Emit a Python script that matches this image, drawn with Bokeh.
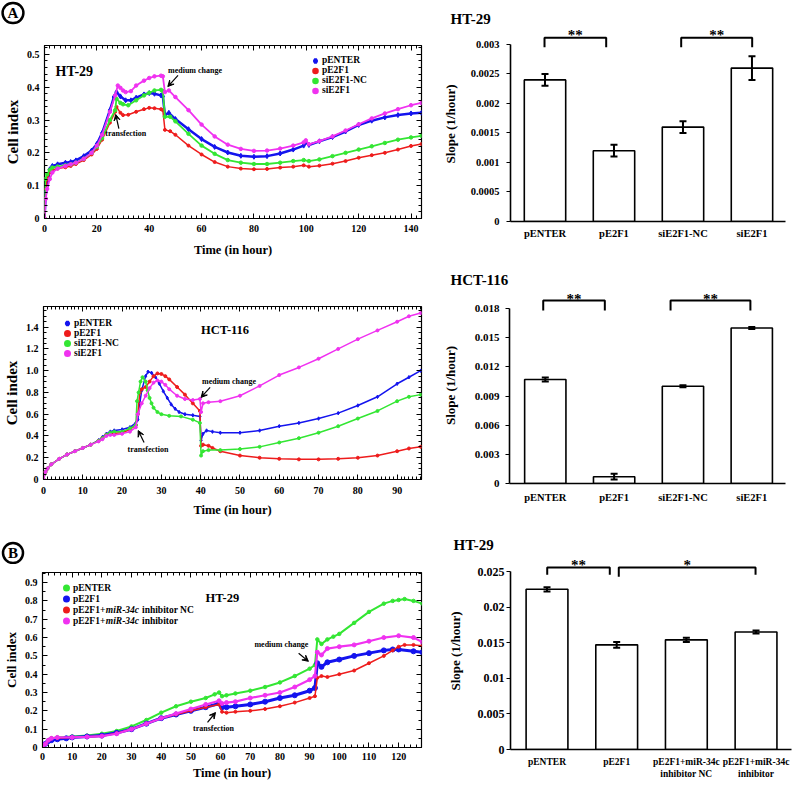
from bokeh.plotting import figure
from bokeh.layouts import column, row
from bokeh.models import (Range1d, LinearAxis, FixedTicker, Legend, LegendItem, Label,
                          Arrow, VeeHead, Whisker, TeeHead, ColumnDataSource,
                          CustomLabelingPolicy)
from bokeh.embed import file_html
from bokeh.resources import INLINE

FONT = "Liberation Serif"
BLUE = "#1414ee"
RED = "#ee1c1c"
GREEN = "#33e633"
MAGENTA = "#f032f0"

# ======================= DATA =======================
# ---- (A) HT-29 real-time cell index ----
A1_PENTER_T = [0, 0.5, 1, 2, 3, 5, 8, 10, 12, 15, 18, 20, 22, 25, 26.5, 27.5, 29, 31, 33, 35, 38, 40, 42, 44.5, 45.2, 46, 47.5, 50, 55, 60, 65, 70, 75, 80, 85, 90, 95, 99, 99.8, 101, 105, 110, 115, 120, 125, 130, 135, 140, 144]
A1_PENTER_V = [0, 0.08, 0.1, 0.15, 0.16, 0.165, 0.17, 0.172, 0.177, 0.19, 0.207, 0.227, 0.26, 0.33, 0.37, 0.385, 0.372, 0.36, 0.36, 0.368, 0.378, 0.382, 0.38, 0.375, 0.372, 0.315, 0.322, 0.303, 0.272, 0.242, 0.218, 0.201, 0.191, 0.188, 0.19, 0.198, 0.21, 0.222, 0.232, 0.224, 0.235, 0.248, 0.265, 0.285, 0.298, 0.308, 0.315, 0.32, 0.322]
A1_PE2F1_T = [0, 0.5, 1, 2, 3, 5, 8, 10, 12, 15, 18, 20, 22, 25, 27, 27.5, 29, 30, 32, 35, 38, 40, 42, 44.5, 45.2, 46, 48, 50, 55, 60, 65, 70, 75, 80, 85, 90, 95, 99, 101, 105, 110, 115, 120, 125, 130, 135, 140, 144]
A1_PE2F1_V = [0, 0.09, 0.12, 0.14, 0.148, 0.152, 0.156, 0.16, 0.166, 0.178, 0.195, 0.212, 0.24, 0.292, 0.325, 0.34, 0.322, 0.315, 0.316, 0.325, 0.333, 0.337, 0.336, 0.333, 0.33, 0.27, 0.266, 0.255, 0.222, 0.195, 0.172, 0.158, 0.152, 0.15, 0.151, 0.155, 0.158, 0.162, 0.158, 0.161, 0.167, 0.175, 0.185, 0.193, 0.2, 0.21, 0.221, 0.227]
A1_SINC_T = [0, 0.3, 1, 2, 3, 5, 8, 10, 12, 15, 18, 20, 22, 25, 27, 27.5, 29, 30, 32, 35, 38, 40, 42, 44.5, 45.2, 46, 48, 50, 55, 60, 65, 70, 75, 80, 85, 90, 95, 99, 101, 105, 110, 115, 120, 125, 130, 135, 140, 144]
A1_SINC_V = [0, 0.12, 0.135, 0.148, 0.155, 0.158, 0.162, 0.165, 0.17, 0.182, 0.2, 0.218, 0.245, 0.3, 0.33, 0.365, 0.352, 0.348, 0.345, 0.36, 0.375, 0.383, 0.39, 0.392, 0.388, 0.31, 0.31, 0.296, 0.258, 0.222, 0.197, 0.178, 0.17, 0.166, 0.166, 0.17, 0.175, 0.178, 0.175, 0.18, 0.19, 0.2, 0.21, 0.22, 0.23, 0.24, 0.247, 0.252]
A1_SIE2F1_T = [0, 0.5, 1, 2, 3, 5, 8, 10, 12, 15, 18, 20, 22, 25, 27, 28, 29, 30, 31, 33, 35, 38, 40, 42, 44.5, 45.2, 46, 47.5, 50, 55, 60, 65, 70, 75, 80, 85, 90, 95, 99, 99.8, 101, 105, 110, 115, 120, 125, 130, 135, 140, 144]
A1_SIE2F1_V = [0, 0.06, 0.09, 0.12, 0.14, 0.152, 0.16, 0.165, 0.17, 0.182, 0.2, 0.222, 0.255, 0.325, 0.375, 0.405, 0.398, 0.39, 0.385, 0.388, 0.405, 0.42, 0.428, 0.433, 0.435, 0.433, 0.385, 0.39, 0.37, 0.33, 0.286, 0.25, 0.225, 0.212, 0.206, 0.207, 0.213, 0.222, 0.232, 0.238, 0.226, 0.236, 0.25, 0.268, 0.287, 0.305, 0.32, 0.333, 0.345, 0.352]

# ---- (A) HCT-116 real-time cell index ----
A2_PENTER_T = [0, 0.5, 1, 2, 4, 6, 8, 10, 12, 14, 15, 16, 17, 18, 20, 22, 23.5, 24, 24.5, 25, 26, 26.6, 27.5, 28.5, 29.5, 30.5, 31.5, 32.5, 33.5, 34.5, 36, 38, 39.8, 40.1, 40.6, 41.5, 43, 45, 50, 55, 60, 65, 70, 75, 80, 85, 90, 93, 96]
A2_PENTER_V = [0, 0.07, 0.1, 0.14, 0.19, 0.23, 0.26, 0.29, 0.32, 0.36, 0.39, 0.42, 0.44, 0.45, 0.46, 0.48, 0.52, 0.55, 0.7, 0.82, 0.95, 0.99, 0.98, 0.94, 0.88, 0.81, 0.75, 0.69, 0.65, 0.62, 0.6, 0.59, 0.58, 0.36, 0.42, 0.45, 0.44, 0.43, 0.43, 0.45, 0.49, 0.52, 0.56, 0.61, 0.68, 0.76, 0.88, 0.94, 1.0]
A2_PE2F1_T = [0, 0.5, 1, 2, 4, 6, 8, 10, 12, 14, 15, 16, 17, 18, 20, 22, 23.5, 24, 24.5, 25, 26, 27, 28, 29, 30, 31, 32, 34, 36, 38, 39.8, 40.1, 40.6, 42, 43, 45, 50, 55, 60, 65, 70, 75, 80, 85, 90, 93, 96]
A2_PE2F1_V = [0, 0.07, 0.1, 0.14, 0.19, 0.23, 0.26, 0.29, 0.32, 0.355, 0.38, 0.41, 0.42, 0.425, 0.43, 0.46, 0.5, 0.6, 0.8, 0.83, 0.85, 0.9, 0.95, 0.975, 0.97, 0.95, 0.92, 0.85, 0.78, 0.7, 0.63, 0.31, 0.32, 0.31, 0.29, 0.26, 0.22, 0.2, 0.19, 0.185, 0.185, 0.19, 0.2, 0.22, 0.26, 0.285, 0.3]
A2_SINC_T = [0, 0.5, 1, 2, 4, 6, 8, 10, 12, 14, 15, 16, 17, 18, 20, 22, 23.5, 23.8, 24.2, 24.7, 25.2, 26, 26.5, 27, 27.5, 28, 29, 30, 32, 35, 38, 39.8, 40.1, 40.6, 42, 45, 50, 55, 60, 65, 70, 75, 80, 85, 90, 93, 96]
A2_SINC_V = [0, 0.07, 0.1, 0.14, 0.19, 0.23, 0.26, 0.29, 0.32, 0.355, 0.38, 0.41, 0.43, 0.44, 0.44, 0.47, 0.5, 0.72, 0.8, 0.9, 0.94, 0.9, 0.82, 0.75, 0.7, 0.66, 0.62, 0.6, 0.585, 0.58, 0.55, 0.52, 0.22, 0.26, 0.27, 0.27, 0.28, 0.3, 0.34, 0.38, 0.43, 0.49, 0.56, 0.63, 0.72, 0.76, 0.78]
A2_SIE2F1_T = [0, 0.5, 1, 2, 4, 6, 8, 10, 12, 14, 15, 16, 17, 18, 20, 22, 23.5, 24, 25, 26, 27, 28, 29, 30, 31, 32, 34, 36, 38, 39.8, 40.1, 40.6, 42, 45, 50, 55, 60, 65, 70, 75, 80, 85, 90, 93, 96]
A2_SIE2F1_V = [0, 0.07, 0.1, 0.14, 0.19, 0.23, 0.26, 0.29, 0.32, 0.35, 0.37, 0.4, 0.41, 0.41, 0.42, 0.44, 0.48, 0.6, 0.7, 0.77, 0.84, 0.89, 0.91, 0.9, 0.87, 0.83, 0.77, 0.74, 0.73, 0.74, 0.62, 0.7, 0.71, 0.72, 0.77, 0.86, 0.96, 1.03, 1.11, 1.2, 1.29, 1.37, 1.45, 1.5, 1.53]

# ---- (B) HT-29 real-time cell index ----
B_PENTER_T = [0, 1, 2, 3, 5, 10, 15, 20, 25, 30, 35, 40, 45, 50, 55, 58, 59.5, 60.5, 62, 65, 70, 75, 80, 85, 90, 91.8, 92.6, 94, 96, 98, 100, 105, 110, 115, 118, 120, 122, 125, 128]
B_PENTER_V = [0, 0.02, 0.04, 0.05, 0.055, 0.06, 0.065, 0.075, 0.09, 0.115, 0.15, 0.19, 0.225, 0.25, 0.27, 0.29, 0.3, 0.28, 0.285, 0.295, 0.31, 0.33, 0.355, 0.39, 0.43, 0.45, 0.59, 0.565, 0.59, 0.605, 0.62, 0.68, 0.74, 0.785, 0.8, 0.805, 0.81, 0.8, 0.785]
B_PE2F1_T = [0, 1, 2, 3, 5, 8, 10, 15, 20, 25, 30, 35, 40, 45, 50, 55, 59.5, 60.5, 62, 65, 70, 75, 80, 85, 90, 91.8, 92.6, 94, 96, 100, 105, 110, 115, 118, 120, 125, 128]
B_PE2F1_V = [0, 0.02, 0.035, 0.04, 0.045, 0.05, 0.055, 0.06, 0.065, 0.08, 0.1, 0.13, 0.16, 0.18, 0.2, 0.22, 0.24, 0.22, 0.22, 0.225, 0.235, 0.25, 0.27, 0.285, 0.31, 0.325, 0.46, 0.44, 0.465, 0.48, 0.5, 0.515, 0.53, 0.535, 0.535, 0.525, 0.52]
B_INHNC_T = [0, 1, 2, 3, 5, 10, 15, 20, 25, 30, 35, 40, 45, 50, 55, 59.5, 60.5, 62, 65, 70, 75, 80, 85, 90, 91.8, 92.6, 94, 96, 100, 105, 110, 115, 118, 120, 122, 125, 128]
B_INHNC_V = [0, 0.02, 0.04, 0.05, 0.052, 0.055, 0.058, 0.062, 0.078, 0.1, 0.13, 0.16, 0.18, 0.2, 0.22, 0.235, 0.195, 0.19, 0.195, 0.2, 0.21, 0.225, 0.245, 0.27, 0.28, 0.38, 0.39, 0.385, 0.4, 0.42, 0.46, 0.5, 0.53, 0.55, 0.56, 0.56, 0.555]
B_INH_T = [0, 1, 2, 3, 5, 10, 15, 20, 25, 30, 35, 40, 45, 50, 55, 59.5, 60.5, 62, 65, 70, 75, 80, 85, 90, 91.8, 92.6, 94, 96, 100, 105, 110, 115, 120, 125, 128]
B_INH_V = [0, 0.02, 0.04, 0.05, 0.055, 0.055, 0.058, 0.062, 0.075, 0.1, 0.13, 0.16, 0.185, 0.21, 0.235, 0.255, 0.24, 0.245, 0.25, 0.27, 0.285, 0.3, 0.33, 0.37, 0.39, 0.52, 0.505, 0.54, 0.55, 0.56, 0.58, 0.6, 0.61, 0.6, 0.575]

# ---- Slopes (bar charts) ----
A_CATS = ["pENTER", "pE2F1", "siE2F1-NC", "siE2F1"]
B_CATS = ["pENTER", "pE2F1", "pE2F1+miR-34c\ninhibitor NC", "pE2F1+miR-34c\ninhibitor"]
A1_SLOPE = [0.0024, 0.0012, 0.0016, 0.0026]
A1_SLOPE_ERR = [0.0001, 0.0001, 0.0001, 0.0002]
A2_SLOPE = [0.0107, 0.0007, 0.0100, 0.0160]
A2_SLOPE_ERR = [0.0002, 0.0003, 0.0001, 0.0001]
B_SLOPE = [0.0225, 0.0147, 0.0154, 0.0165]
B_SLOPE_ERR = [0.0003, 0.0004, 0.0003, 0.0002]

# ---- Tick labels ----
A1_XTICKS = [0, 20, 40, 60, 80, 100, 120, 140]
A1_XLABELS = ["0", "20", "40", "60", "80", "100", "120", "140"]
A1_YTICKS = [0, 0.1, 0.2, 0.3, 0.4, 0.5]
A1_YLABELS = ["0", "0.1", "0.2", "0.3", "0.4", "0.5"]
A2_XTICKS = [0, 10, 20, 30, 40, 50, 60, 70, 80, 90]
A2_XLABELS = ["0", "10", "20", "30", "40", "50", "60", "70", "80", "90"]
A2_YTICKS = [0, 0.2, 0.4, 0.6, 0.8, 1.0, 1.2, 1.4]
A2_YLABELS = ["0", "0.2", "0.4", "0.6", "0.8", "1.0", "1.2", "1.4"]
B_XTICKS = [0, 10, 20, 30, 40, 50, 60, 70, 80, 90, 100, 110, 120]
B_XLABELS = ["0", "10", "20", "30", "40", "50", "60", "70", "80", "90", "100", "110", "120"]
B_YTICKS = [0, 0.1, 0.2, 0.3, 0.4, 0.5, 0.6, 0.7, 0.8, 0.9]
B_YLABELS = ["0", "0.1", "0.2", "0.3", "0.4", "0.5", "0.6", "0.7", "0.8", "0.9"]
A1_BAR_YTICKS = [0, 0.0005, 0.001, 0.0015, 0.002, 0.0025, 0.003]
A1_BAR_YLABELS = ["0", "0.0005", "0.001", "0.0015", "0.002", "0.0025", "0.003"]
A2_BAR_YTICKS = [0, 0.003, 0.006, 0.009, 0.012, 0.015, 0.018]
A2_BAR_YLABELS = ["0", "0.003", "0.006", "0.009", "0.012", "0.015", "0.018"]
B_BAR_YTICKS = [0, 0.005, 0.01, 0.015, 0.02, 0.025]
B_BAR_YLABELS = ["0", "0.005", "0.01", "0.015", "0.02", "0.025"]

# ======================= HELPERS =======================

def make_line_fig(W, H, borders, xr, yr, xt, xl, xminor, yt, yl, yminor, ylab_size,
                  xtick_standoff, xlab_standoff):
    l, r, t, b = borders
    p = figure(width=W, height=H, x_range=Range1d(*xr), y_range=Range1d(*yr),
               x_axis_type=None, y_axis_type=None, output_backend="svg",
               toolbar_location=None, tools="",
               min_border_left=l, min_border_right=r, min_border_top=t, min_border_bottom=b)
    p.outline_line_color = "black"
    p.outline_line_width = 1.2
    p.background_fill_color = "white"
    p.border_fill_color = "white"
    xtk = FixedTicker(ticks=xt, minor_ticks=xminor)
    ytk = FixedTicker(ticks=yt, minor_ticks=yminor)
    common = dict(axis_line_color=None, major_tick_in=5, major_tick_out=0,
                  minor_tick_in=3, minor_tick_out=0,
                  major_tick_line_color="black", minor_tick_line_color="black",
                  major_label_text_font=FONT, major_label_text_font_style="bold",
                  major_label_text_color="black",
                  axis_label_text_font=FONT, axis_label_text_font_style="bold",
                  axis_label_text_color="black")
    xa = LinearAxis(ticker=xtk, major_label_overrides=dict(zip(xt, xl)),
                    axis_label="Time (in hour)", axis_label_text_font_size="12.5px",
                    major_label_text_font_size="10px",
                    major_label_standoff=xtick_standoff, axis_label_standoff=xlab_standoff,
                    **common)
    ya = LinearAxis(ticker=ytk, major_label_overrides=dict(zip(yt, yl)),
                    axis_label="Cell index", axis_label_text_font_size=ylab_size,
                    major_label_text_font_size="10px",
                    major_label_standoff=5, axis_label_standoff=3, **common)
    # tick-only axes on the top and right edges (labels suppressed)
    xa2 = LinearAxis(ticker=xtk, major_label_standoff=0, major_label_text_font_size="1px",
                     major_label_policy=CustomLabelingPolicy(code="return []"), **common)
    ya2 = LinearAxis(ticker=ytk, major_label_standoff=0, major_label_text_font_size="1px",
                     major_label_policy=CustomLabelingPolicy(code="return []"), **common)
    p.add_layout(xa, "below")
    p.add_layout(ya, "left")
    p.add_layout(xa2, "above")
    p.add_layout(ya2, "right")
    return p


def make_header(W, H, letter, cx, cy_from_bottom):
    """A thin strip carrying the circled panel letter."""
    h = figure(width=W, height=H, x_range=Range1d(0, 1), y_range=Range1d(0, 1),
               x_axis_type=None, y_axis_type=None, output_backend="svg",
               toolbar_location=None, tools="",
               min_border_left=0, min_border_right=0, min_border_top=0, min_border_bottom=0)
    h.outline_line_color = None
    h.background_fill_color = "white"
    h.border_fill_color = "white"
    h.add_layout(Label(x=cx, y=cy_from_bottom, x_units="screen", y_units="screen",
                       text=letter, text_font=FONT, text_font_style="bold",
                       text_font_size="15px", text_align="center", text_baseline="middle",
                       text_color="black", border_line_color="black", border_line_width=2.5,
                       border_radius=11, padding=(5, 2)))
    return h


def add_series(p, series):
    rends = []
    for label, t, v, color, marker, msize, lw in series:
        p.line(t, v, line_color=color, line_width=lw)
        p.scatter(t, v, marker=marker, size=msize, fill_color=color, line_color=color)
        # legend swatch renderer (first point only, drawn tiny at the origin)
        sw = p.scatter(x=t[:1], y=v[:1], marker=marker, size=1, fill_color=color,
                       line_color=color, line_width=3)
        rends.append((label, sw))
    return rends


def add_legend(p, rends, loc, row_h, standoff):
    items = [LegendItem(label=lab_, renderers=[r]) for lab_, r in rends]
    lg = Legend(items=items, location=loc, orientation="vertical",
                glyph_width=10, glyph_height=row_h, label_height=row_h, label_width=10,
                spacing=0, padding=0, margin=0, label_standoff=standoff,
                label_text_font=FONT, label_text_font_style="bold",
                label_text_font_size="9.5px", label_text_color="black",
                background_fill_alpha=0, border_line_alpha=0)
    p.add_layout(lg)
    return lg


def lab(p, x, y, text, size, align="center", units="data", style="bold", baseline="middle"):
    p.add_layout(Label(x=x, y=y, x_units=units, y_units=units, text=text,
                       text_font=FONT, text_font_style=style, text_font_size=size,
                       text_align=align, text_baseline=baseline, text_color="black"))


def arrow(p, x0, y0, x1, y1):
    p.add_layout(Arrow(x_start=x0, y_start=y0, x_end=x1, y_end=y1, line_width=1.2,
                       line_color="black",
                       end=VeeHead(size=6, line_color="black", fill_color="black", line_width=1)))


def set_title(p, text, offset, size, standoff):
    p.title.text = text
    p.title.align = "left"
    p.title.offset = offset
    p.title.standoff = standoff
    p.title.text_font = FONT
    p.title.text_font_style = "bold"
    p.title.text_font_size = size
    p.title.text_color = "black"


def make_bar_fig(W, H, borders, xr, yr, cats, vals, errs, yt, yl, tick_fs, cat_fs,
                 cat_standoff, tick_standoff, lab_standoff):
    l, r, t, b = borders
    p = figure(width=W, height=H, x_range=Range1d(*xr), y_range=Range1d(*yr),
               x_axis_type=None, y_axis_type=None, output_backend="svg",
               toolbar_location=None, tools="",
               min_border_left=l, min_border_right=r, min_border_top=t, min_border_bottom=b)
    p.outline_line_color = None
    p.background_fill_color = "white"
    p.border_fill_color = "white"
    xs = list(range(1, len(cats) + 1))
    src = ColumnDataSource(dict(x=xs, top=vals,
                                upper=[v + e for v, e in zip(vals, errs)],
                                lower=[v - e for v, e in zip(vals, errs)]))
    p.vbar(x="x", top="top", width=0.6, source=src, fill_color="white",
           line_color="black", line_width=1.6)
    p.add_layout(Whisker(source=src, base="x", upper="upper", lower="lower",
                         line_width=2, line_color="black", level="overlay",
                         upper_head=TeeHead(size=7, line_width=2, line_color="black"),
                         lower_head=TeeHead(size=7, line_width=2, line_color="black")))
    xa = LinearAxis(ticker=FixedTicker(ticks=xs), major_label_overrides=dict(zip(xs, cats)),
                    major_tick_in=0, major_tick_out=0, minor_tick_in=0, minor_tick_out=0,
                    axis_line_width=1.6, axis_line_color="black",
                    major_label_text_font=FONT, major_label_text_font_style="bold",
                    major_label_text_font_size=cat_fs, major_label_text_color="black",
                    major_label_standoff=cat_standoff)
    ya = LinearAxis(ticker=FixedTicker(ticks=yt), major_label_overrides=dict(zip(yt, yl)),
                    bounds=(0, yt[-1]), axis_label="Slope (1/hour)",
                    major_tick_in=0, major_tick_out=4, minor_tick_in=0, minor_tick_out=0,
                    axis_line_width=1.6, axis_line_color="black",
                    major_label_text_font=FONT, major_label_text_font_style="bold",
                    major_label_text_font_size=tick_fs, major_label_text_color="black",
                    major_label_standoff=tick_standoff,
                    axis_label_text_font=FONT, axis_label_text_font_style="bold",
                    axis_label_text_font_size="13px", axis_label_text_color="black",
                    axis_label_standoff=lab_standoff)
    p.add_layout(xa, "below")
    p.add_layout(ya, "left")
    return p


def bracket(p, x0, x1, yb0, yb1, ytop, ystar, star):
    p.line([x0, x0, x1, x1], [yb0, ytop, ytop, yb1], line_color="black", line_width=2)
    lab(p, (x0 + x1) / 2, ystar, star, "15px", baseline="alphabetic")


# ======================= ROW 1 =======================
hA = make_header(438, 37, "A", 12.5, 24.5)
f1 = make_line_fig(438, 225, (44, 17, 8, 44), (0, 144), (0, 0.527),
                   A1_XTICKS, A1_XLABELS, [x for x in range(0, 145, 2)],
                   A1_YTICKS, A1_YLABELS, [i * 0.02 for i in range(27)], "15px", 6, 8)
r1 = add_series(f1, [
    ("pENTER", A1_PENTER_T, A1_PENTER_V, BLUE, "diamond", 5, 2.5),
    ("pE2F1", A1_PE2F1_T, A1_PE2F1_V, RED, "circle", 3, 1.5),
    ("siE2F1-NC", A1_SINC_T, A1_SINC_V, GREEN, "circle", 3.5, 1.8),
    ("siE2F1", A1_SIE2F1_T, A1_SIE2F1_V, MAGENTA, "circle", 3.5, 1.8),
])
add_legend(f1, r1, (266, 123), 9, 2)
lab(f1, 4.2, 0.448, "HT-29", "14px", align="left")
lab(f1, 31.0, 0.259, "transfection", "8px")
arrow(f1, 28.4, 0.274, 27.2, 0.317)
lab(f1, 57.5, 0.45, "medium change", "8px")
arrow(f1, 51.0, 0.436, 47.1, 0.402)

b1 = make_bar_fig(358, 262, (72, 11, 26, 41), (0.5, 4.486), (0, 0.003305),
                  A_CATS, A1_SLOPE, A1_SLOPE_ERR, A1_BAR_YTICKS, A1_BAR_YLABELS,
                  "10.5px", "10.5px", 6, 7, 10)
bracket(b1, 0.993, 1.887, 0.002954, 0.002954, 0.003114, 0.003153, "**")
bracket(b1, 2.974, 4.003, 0.002954, 0.002954, 0.003114, 0.003153, "**")
set_title(b1, "HT-29", -60, "15px", 0)

# ======================= ROW 2 =======================
f2 = make_line_fig(438, 258, (42, 17, 44, 41), (0, 96.2), (0, 1.59),
                   A2_XTICKS, A2_XLABELS, [x for x in range(0, 97)],
                   A2_YTICKS, A2_YLABELS, [i * 0.05 for i in range(32)], "15px", 7, 6)
r2 = add_series(f2, [
    ("pENTER", A2_PENTER_T, A2_PENTER_V, BLUE, "diamond", 3.5, 1.5),
    ("pE2F1", A2_PE2F1_T, A2_PE2F1_V, RED, "circle", 3, 1.5),
    ("siE2F1-NC", A2_SINC_T, A2_SINC_V, GREEN, "circle", 3, 1.5),
    ("siE2F1", A2_SIE2F1_T, A2_SIE2F1_V, MAGENTA, "circle", 3, 1.5),
])
add_legend(f2, r2, (19, 121), 10, 2)
lab(f2, 46.2, 1.37, "HCT-116", "12.5px")
lab(f2, 26.6, 0.276, "transfection", "8px")
arrow(f2, 25.6, 0.34, 24.1, 0.45)
lab(f2, 47.2, 0.9, "medium change", "8px")
arrow(f2, 42.4, 0.846, 40.1, 0.754)

b2 = make_bar_fig(358, 258, (71, 11, 25, 37), (0.48, 4.49), (0, 0.020161),
                  A_CATS, A2_SLOPE, A2_SLOPE_ERR, A2_BAR_YTICKS, A2_BAR_YLABELS,
                  "11px", "10.5px", 8, 6, 14)
bracket(b2, 0.97, 1.865, 0.0178, 0.0178, 0.01882, 0.01897, "**")
bracket(b2, 2.82, 3.98, 0.0178, 0.0178, 0.01882, 0.01897, "**")
set_title(b2, "HCT-116", -59, "15px", 0)

# ======================= ROW 3 =======================
hB = make_header(438, 44, "B", 12.5, 11.5)
f3 = make_line_fig(438, 220, (42, 17, 8, 37), (0, 127.7), (0, 0.955),
                   B_XTICKS, B_XLABELS, [x for x in range(0, 128, 2)],
                   B_YTICKS, B_YLABELS, [i * 0.05 for i in range(20)], "13px", 5, 3)
r3 = add_series(f3, [
    ("pENTER", B_PENTER_T, B_PENTER_V, GREEN, "circle", 3.5, 2),
    ("pE2F1", B_PE2F1_T, B_PE2F1_V, BLUE, "circle", 5, 3),
    ("pE2F1+", B_INHNC_T, B_INHNC_V, RED, "circle", 3, 1.5),
    ("pE2F1+", B_INH_T, B_INH_V, MAGENTA, "circle", 4, 2.2),
])
add_legend(f3, r3, (19, 121), 11, 2)
# italic gene name inside the legend labels
for yy, tail in ((137.5, "inhibitor NC"), (126.5, "inhibitor")):
    lab(f3, 63.3, yy, "miR-34c", "9.5px", align="left", units="screen", style="bold italic")
    lab(f3, 99.5, yy, tail, "9.5px", align="left", units="screen")
lab(f3, 60.6, 0.814, "HT-29", "12.5px")
lab(f3, 80.5, 0.563, "medium change", "8px")
arrow(f3, 86.3, 0.514, 89.6, 0.47)
lab(f3, 57.6, 0.104, "transfection", "8px")
arrow(f3, 55.6, 0.137, 58.3, 0.191)

b3 = make_bar_fig(358, 264, (72, 5, 32, 35), (0.476, 4.509), (0, 0.027669),
                  B_CATS, B_SLOPE, B_SLOPE_ERR, B_BAR_YTICKS, B_BAR_YLABELS,
                  "12px", "9.5px", 7, 2, 12)
bracket(b3, 1.003, 1.901, 0.02453, 0.02453, 0.02557, 0.02592, "**")
bracket(b3, 2.03, 3.993, 0.02425, 0.02453, 0.02557, 0.02592, "*")
set_title(b3, "HT-29", -57, "15px", 0)

layout = column(row(column(column(hA), column(f1)), column(b1)),
                row(column(f2), column(b2)),
                row(column(column(hB), column(f3)), column(b3)))
open("out.html", "w").write(file_html(layout, INLINE))
